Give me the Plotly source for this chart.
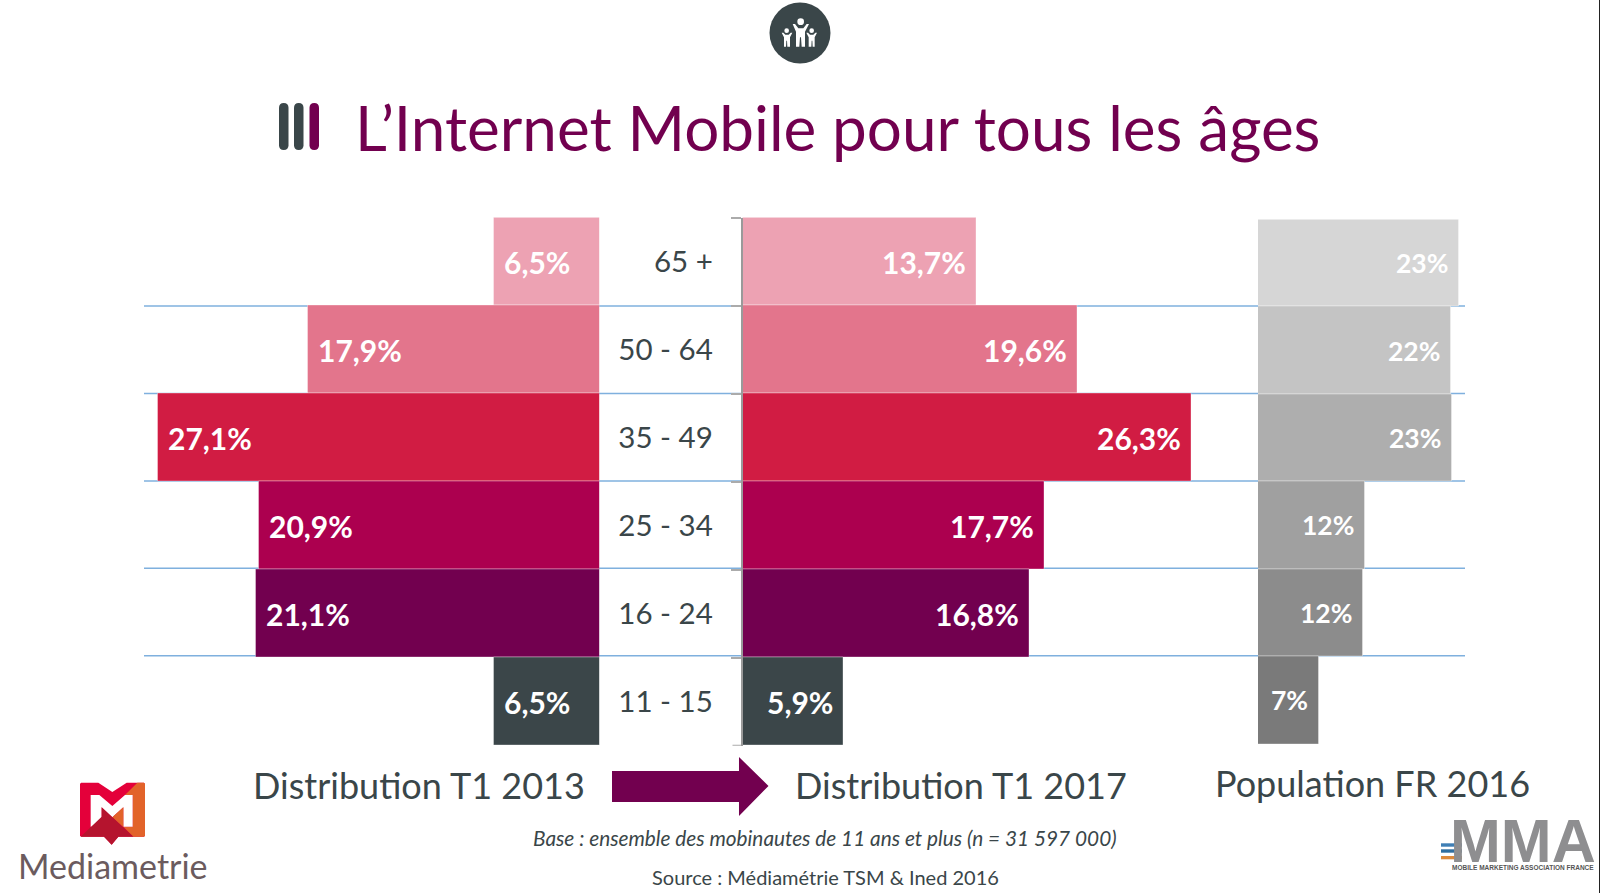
import plotly.graph_objects as go

# ---- data ----
ages = ["65 +", "50 - 64", "35 - 49", "25 - 34", "16 - 24", "11 - 15"]
dist_2013 = [6.5, 17.9, 27.1, 20.9, 21.1, 6.5]
dist_2017 = [13.7, 19.6, 26.3, 17.7, 16.8, 5.9]
pop_2016 = [23, 22, 22.2, 12.2, 12, 7]
labels_2013 = ["6,5%", "17,9%", "27,1%", "20,9%", "21,1%", "6,5%"]
labels_2017 = ["13,7%", "19,6%", "26,3%", "17,7%", "16,8%", "5,9%"]
labels_pop = ["23%", "22%", "23%", "12%", "12%", "7%"]
colors_dist = ["#EDA2B3", "#E3758C", "#D11C43", "#AC004F", "#72004F", "#3B4649"]
colors_pop = ["#D6D6D6", "#C4C4C4", "#AEAEAE", "#A0A0A0", "#8C8C8C", "#7A7A7A"]

W, H = 1600, 893
DARK = "#3A4649"
PURPLE = "#72004F"
FONT = "Lato"

def px(x): return x / W
def py(y): return 1 - y / H
def poly(points):
    return "M " + " L ".join(f"{px(x):.5f},{py(y):.5f}" for x, y in points) + " Z"
def circle(cx, cy, r):
    return dict(type="circle", xref="paper", yref="paper", x0=px(cx - r), x1=px(cx + r),
                y0=py(cy + r), y1=py(cy - r), line_width=0)
def shape_poly(points, color):
    return dict(type="path", xref="paper", yref="paper", path=poly(points),
                fillcolor=color, line_width=0, layer="above")
def rect(x0, y0, x1, y1, color):
    return dict(type="rect", xref="paper", yref="paper", x0=px(x0), x1=px(x1),
                y0=py(y1), y1=py(y0), fillcolor=color, line_width=0, layer="above")
def rbar(x0, x1, y0, y1, color):
    r = (x1 - x0) / 2
    p = (f"M {px(x0)},{py(y0 + r)} Q {px(x0)},{py(y0)} {px(x0 + r)},{py(y0)} "
         f"Q {px(x1)},{py(y0)} {px(x1)},{py(y0 + r)} L {px(x1)},{py(y1 - r)} "
         f"Q {px(x1)},{py(y1)} {px(x0 + r)},{py(y1)} Q {px(x0)},{py(y1)} {px(x0)},{py(y1 - r)} Z")
    return dict(type="path", xref="paper", yref="paper", path=p, fillcolor=color, line_width=0)

fig = go.Figure()
edge = dict(width=1, color="rgba(255,255,255,0.35)")
fig.add_trace(go.Bar(y=ages, x=dist_2013, orientation="h", marker=dict(color=colors_dist, line=edge),
                     xaxis="x", yaxis="y", hoverinfo="skip"))
fig.add_trace(go.Bar(y=ages, x=dist_2017, orientation="h", marker=dict(color=colors_dist, line=edge),
                     xaxis="x2", yaxis="y2", hoverinfo="skip"))
fig.add_trace(go.Bar(y=ages, x=pop_2016, orientation="h", marker=dict(color=colors_pop, line=edge),
                     xaxis="x3", yaxis="y3", hoverinfo="skip"))

hidden = dict(visible=False, fixedrange=True)
cat = dict(categoryorder="array", categoryarray=ages, range=[5.5, -0.5], fixedrange=True)
fig.update_layout(
    width=W, height=H, autosize=False, margin=dict(l=0, r=0, t=0, b=0), showlegend=False,
    paper_bgcolor="white", plot_bgcolor="rgba(0,0,0,0)", bargap=0,
    font=dict(family=FONT, color=DARK),
    xaxis=dict(domain=[0, px(599.5)], range=[599.5 / 16.3, 0], anchor="y", **hidden),
    yaxis=dict(domain=[py(745.7), py(217.5)], anchor="x", visible=False, **cat),
    xaxis2=dict(domain=[px(742.5), px(1258)], range=[0, (1258 - 742.5) / 17.07], anchor="y2", **hidden),
    yaxis2=dict(domain=[py(745.7), py(217.5)], anchor="x2", **cat, side="left",
                showline=True, linecolor="#9A9A9A", linewidth=1.5,
                ticks="outside", tickson="boundaries", ticklen=10, tickcolor="#ABABAB", tickwidth=2,
                ticklabelstandoff=22, tickfont=dict(family=FONT, size=29.5, color=DARK), showgrid=False),
    xaxis3=dict(domain=[px(1258), 1], range=[0, (W - 1258) / 8.76], anchor="y3", **hidden),
    yaxis3=dict(domain=[py(744), py(219.5)], anchor="x3", visible=False, **cat),
)

shapes = []
# horizontal separators, placed on the population axis between rows (behind the bars)
for i in range(len(ages) - 1):
    shapes.append(dict(type="line", xref="paper", yref="y3", x0=px(144), x1=px(1465),
                       y0=i + 0.49, y1=i + 0.49, line=dict(color="#7FB0DE", width=1.5), layer="below"))
# closing tick under the last row of the middle axis
shapes.append(dict(type="line", xref="paper", yref="y2", x0=px(732.5), x1=px(742.5),
                   y0=5.5, y1=5.5, line=dict(color="#ABABAB", width=2), layer="below"))
# page frame edge
shapes.append(rect(1599, 0, 1600, H, "#222222"))
# title bars
shapes += [rbar(279, 288.5, 103, 150, DARK), rbar(294, 303.5, 103, 150, DARK), rbar(309.5, 319, 103, 150, PURPLE)]
# people icon
c = circle(800, 33, 30.5); c.update(fillcolor=DARK); shapes.append(c)
Z = lambda pts: [(760 + x / 3, y / 3) for x, y in pts]
center = [(98,72),(105,72),(115,85),(130,85),(140,72),(147,72),(135,95),(135,140),(125,140),(123,112),(120,112),(118,140),(108,140),(108,95)]
left = [(65,98),(70,98),(76,104),(86,104),(92,98),(97,98),(90,112),(90,140),(82,140),(81,122),(79,122),(78,140),(72,140),(72,112)]
right = [(236 - x, y) for x, y in left]
for pts in (center, left, right):
    shapes.append(shape_poly(Z(pts), "white"))
for cx, cy, r in ((122, 65, 10), (80, 92, 7), (155, 92, 7)):
    s = circle(760 + cx / 3, cy / 3, r / 3); s.update(fillcolor="white"); shapes.append(s)
# arrow
shapes.append(shape_poly([(612, 771), (739, 771), (739, 757), (768.5, 786), (739, 816), (739, 802), (612, 802)], PURPLE))
# Mediametrie logo
L = lambda pts: [(60 + x / 3, 770 + y / 3) for x, y in pts]
shapes.append(shape_poly(L([(63,38),(115,38),(157,66),(200,38),(252,38),(255,42),(255,197),(252,200),(175,200),(155,224),(132,200),(63,200),(60,197),(60,42)]), "#E4003A"))
shapes.append(shape_poly(L([(232,38),(252,38),(255,42),(255,197),(252,200),(220,200),(190,170),(218,170),(218,75),(195,75)]), "#E2632A"))
shapes.append(shape_poly(L([(92,75),(118,75),(157,108),(195,75),(218,75),(218,170),(190,170),(190,112),(157,142),(125,112),(125,170),(92,170)]), "white"))
shapes.append(shape_poly(L([(190,112),(190,172),(157,142)]), "#E2632A"))
shapes.append(shape_poly(L([(125,112),(220,200),(175,200),(155,224),(132,200),(62,200),(125,140)]), "#B5142E"))
# MMA logo stripes
shapes.append(rect(1441, 843.3, 1462, 846.7, "#3F7FB5"))
shapes.append(rect(1441, 849.3, 1462, 852.7, "#2F6EA0"))
shapes.append(rect(1441, 856, 1462, 859.3, "#DD8A3C"))
fig.update_layout(shapes=shapes)

ann = []
def text(s, x, y, size, color=DARK, anchor="center", family=FONT, **kw):
    ann.append(dict(text=s, xref="paper", yref="paper", x=px(x), y=py(y), xanchor=anchor, yanchor="middle",
                    showarrow=False, font=dict(family=family, size=size, color=color), borderpad=0, **kw))

text("L’Internet Mobile pour tous les âges", 837.5, 127, 62, PURPLE)
text("Distribution T1 2013", 419, 785, 36)
text("Distribution T1 2017", 961, 785, 36)
text("Population FR 2016", 1372, 783, 36)
text("<i>Base : ensemble des mobinautes de 11 ans et plus (n = 31 597 000)</i>", 825, 837, 20.8)
text("Source : Médiamétrie TSM &amp; Ined 2016", 825, 877, 20)
text("Mediametrie", 113, 865, 34, "#6B5B5E")
text("<span style='font-size:61px;color:#8E8E90'><b>MMA</b></span><br><b>MOBILE MARKETING ASSOCIATION FRANCE</b>",
     1523, 840.5, 6.5, "#555555", family="Liberation Sans")

def bar_labels(values, labels, xa, ya, size, anchor, shift, ys):
    for a, v, t in zip(ages, values, labels):
        ann.append(dict(text=f"<b>{t}</b>", xref=xa, yref=ya, x=v, y=a, xanchor=anchor, yanchor="middle",
                        xshift=shift, yshift=ys, showarrow=False, borderpad=0,
                        font=dict(family=FONT, size=size, color="white")))
bar_labels(dist_2013, labels_2013, "x", "y", 30, "left", 9.5, 0)
bar_labels(dist_2017, labels_2017, "x2", "y2", 30, "right", -9.5, 0)
bar_labels(pop_2016, labels_pop, "x3", "y3", 26.5, "right", -10, 0)
fig.update_layout(annotations=ann)

fig.write_html("out.html", config={"displayModeBar": False},
               post_script="document.body.style.margin='0';document.body.style.overflow='hidden';")
